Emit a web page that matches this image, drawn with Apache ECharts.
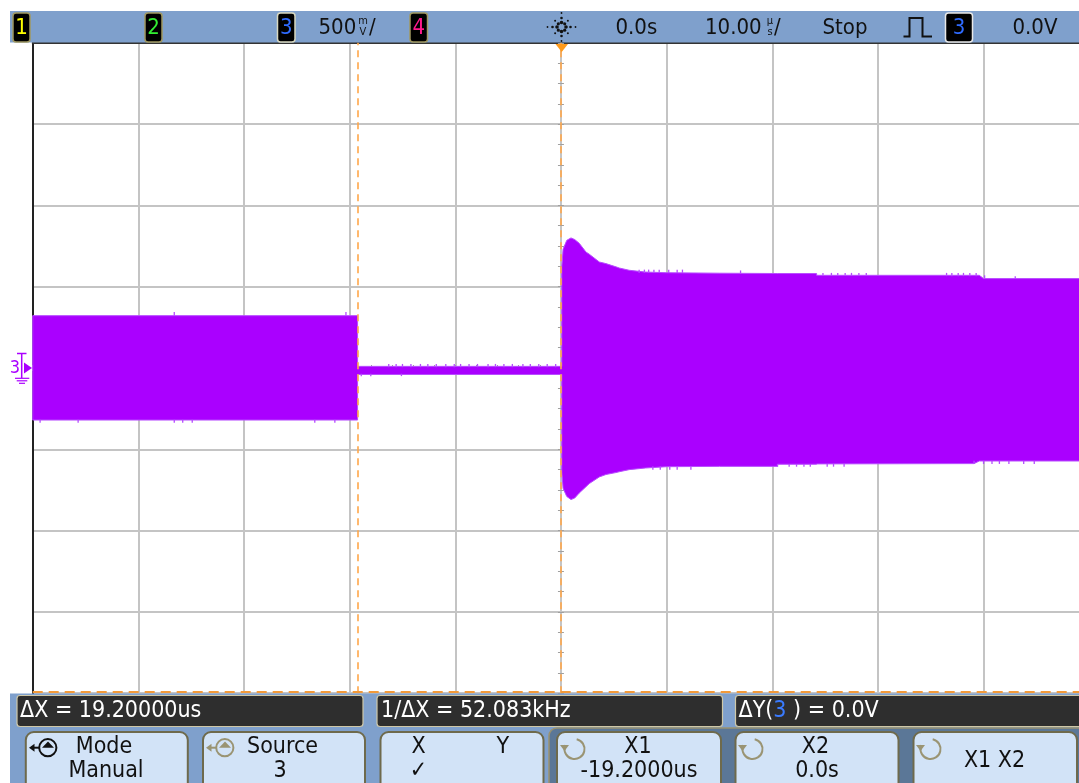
<!DOCTYPE html>
<html><head><meta charset="utf-8">
<script src="https://cdn.jsdelivr.net/npm/echarts@6/dist/echarts.min.js"></script>
<style>html,body{margin:0;padding:0;background:#fff}#c{width:1079px;height:783px}</style>
</head><body><div id="c"></div>
<script>
// ---- Channel 3 envelope (time in µs, volts) ----
const envTime  = [-50, -19.25, -19.25, 0.08, 0.08, 0.2, 0.55, 0.95, 1.3, 1.73, 2.37, 2.68, 3.63, 4.26, 5.21, 5.52, 6.46, 8, 10, 15, 20.5, 20.5, 24.2, 24.2, 39.1, 39.6, 40.0, 50];
const envUpper = [0.322, 0.322, 0.01, 0.01, 0.62, 0.73, 0.785, 0.80, 0.79, 0.767, 0.713, 0.70, 0.652, 0.642, 0.622, 0.615, 0.601, 0.59, 0.586, 0.583, 0.581, 0.581, 0.581, 0.570, 0.570, 0.570, 0.550, 0.550];
const envLower = [-0.320, -0.320, -0.04, -0.04, -0.64, -0.74, -0.79, -0.809, -0.80, -0.769, -0.73, -0.711, -0.670, -0.655, -0.643, -0.638, -0.625, -0.615, -0.607, -0.605, -0.605, -0.592, -0.592, -0.590, -0.588, -0.572, -0.572, -0.572];

// ---- noise spikes on the envelope edges (time, from, to) ----
const spikeTime = [-36.6, -20.35,
  -49.3, -45.7, -36.6, -35.8, -34.9, -23.3, -21.4,
  -16.3, -15.6, -15.0, -14.2, -13.3, -12.6, -11.8, -10.9, -10.1, -9.5, -8.7, -7.9, -6.9, -6.2, -5.4, -4.6, -3.6, -2.9, -2.1, -1.3, -0.5,
  -18.9, -18.0, -15.1,
  7.4, 7.9, 8.3, 8.8, 9.3, 10.2, 11.0, 11.5, 17.0, 24.8, 25.6, 26.2, 26.9, 27.5, 28.2, 28.9, 36.5, 37.0, 37.6, 38.1, 38.7, 39.3, 40.1, 43.0,
  8.7, 9.4, 10.3, 11.0, 12.3, 20.5, 21.6, 22.3, 23.0, 23.6, 25.2, 25.8, 26.8, 39.1, 40.0, 40.8, 41.5, 42.4, 43.8, 44.8];
const spikeFrom = [0.32, 0.32,
  -0.318, -0.318, -0.318, -0.318, -0.318, -0.318, -0.318,
  0.005, 0.005, 0.005, 0.005, 0.005, 0.005, 0.005, 0.005, 0.005, 0.005, 0.005, 0.005, 0.005, 0.005, 0.005, 0.005, 0.005, 0.005, 0.005, 0.005, 0.005,
  -0.035, -0.035, -0.035,
  0.585, 0.585, 0.585, 0.585, 0.585, 0.585, 0.585, 0.585, 0.58, 0.568, 0.568, 0.568, 0.568, 0.568, 0.568, 0.568, 0.565, 0.565, 0.565, 0.565, 0.565, 0.565, 0.55, 0.548,
  -0.605, -0.605, -0.605, -0.605, -0.605, -0.59, -0.59, -0.59, -0.59, -0.59, -0.59, -0.59, -0.59, -0.57, -0.57, -0.57, -0.57, -0.57, -0.57, -0.57];
const spikeTo = [0.345, 0.345,
  -0.337, -0.337, -0.337, -0.337, -0.337, -0.337, -0.337,
  0.025, 0.025, 0.025, 0.025, 0.025, 0.025, 0.025, 0.025, 0.025, 0.025, 0.025, 0.025, 0.025, 0.025, 0.025, 0.025, 0.025, 0.025, 0.025, 0.025, 0.025,
  -0.05, -0.05, -0.05,
  0.605, 0.605, 0.605, 0.605, 0.605, 0.605, 0.605, 0.605, 0.60, 0.585, 0.585, 0.585, 0.585, 0.585, 0.585, 0.585, 0.585, 0.585, 0.585, 0.585, 0.585, 0.585, 0.57, 0.565,
  -0.625, -0.625, -0.625, -0.625, -0.625, -0.607, -0.607, -0.607, -0.607, -0.607, -0.607, -0.607, -0.607, -0.59, -0.59, -0.59, -0.59, -0.59, -0.59, -0.59];

// ---- cursors ----
const cursorX = [-19.2, 0];
const cursorY = [-1.99];

// ---- screen texts ----
const headerTexts = ['500', '0.0s', '10.00', 'Stop', '0.0V'];
const readouts = ['ΔX = 19.20000us', '1/ΔX = 52.083kHz', 'ΔY(', '3', ' ) = 0.0V'];
const softkeyTop = ['Mode', 'Source', 'X', 'X1', 'X2', 'X1 X2'];
const softkeyBottom = ['Manual', '3', '✓', '-19.2000us', '0.0s', ''];

const FONT = "'DejaVu Sans Condensed','DejaVu Sans',sans-serif";
const f = s => s + 'px ' + FONT;
const G = [];
function rect(x, y, w, h, fill, stroke, lw, r) {
  G.push({type: 'rect', shape: {x, y, width: w, height: h, r: r || 0}, style: {fill, stroke: stroke || null, lineWidth: lw || 0}, z: 100, silent: true});
}
function text(t, x, y, size, color, align) {
  G.push({type: 'text', style: {text: t, x, y, fill: color, font: f(size), align: align || 'left', verticalAlign: 'middle', textAlign: align || 'left', textVerticalAlign: 'middle'}, z: 102, silent: true});
}
function line(x1, y1, x2, y2, color, lw) {
  G.push({type: 'line', shape: {x1, y1, x2, y2}, style: {stroke: color, lineWidth: lw || 1}, z: 102, silent: true});
}
function poly(points, fill) {
  G.push({type: 'polygon', shape: {points}, style: {fill}, z: 102, silent: true});
}
function polyline(points, color, lw) {
  G.push({type: 'polyline', shape: {points}, style: {stroke: color, lineWidth: lw, fill: null}, z: 102, silent: true});
}
function arc(cx, cy, r, a0, a1, color, lw) {
  G.push({type: 'arc', shape: {cx, cy, r, startAngle: a0, endAngle: a1, clockwise: true}, style: {stroke: color, lineWidth: lw, fill: null}, z: 102, silent: true});
}
function circle(cx, cy, r, color) {
  G.push({type: 'circle', shape: {cx, cy, r}, style: {fill: color}, z: 102, silent: true});
}

// top bar
const BAR = '#7fa0cc';
rect(10, 11, 1069, 31.5, BAR);
function chBox(x, w, num, color, border) {
  rect(x, 13, w, 29, '#000', border, 1.5, 3);
  text(num, x + w / 2, 28, 22, color, 'center');
}
chBox(13, 17, '1', '#ffff00', '#a09860');
chBox(145, 17, '2', '#33ee33', '#a09860');
chBox(277.5, 17.5, '3', '#2f6bff', '#d8d8c0');
chBox(410, 17.5, '4', '#ff1a8c', '#a09860');
text(headerTexts[0], 318.5, 28, 22, '#111');
text('m', 363, 21, 11, '#111', 'center');
text('V', 363, 32, 11, '#111', 'center');
text('/', 369, 28, 22, '#111');
// logo
const LX = 561.5, LY = 27;
for (let k = 0; k < 8; k++) {
  const a = k * Math.PI / 4;
  const radii = (k % 2 === 0) ? [4.5, 9, 14] : [4.5, 9];
  const sizes = (k % 2 === 0) ? [1.8, 1.3, 0.9] : [1.6, 1.0];
  radii.forEach((r, j) => circle(LX + r * Math.cos(a), LY + r * Math.sin(a), sizes[j], '#111'));
}
text(headerTexts[1], 615.5, 28, 22, '#111');
text(headerTexts[2], 705, 28, 22, '#111');
text('µ', 770, 21, 11, '#111', 'center');
text('s', 770, 32, 11, '#111', 'center');
text('/', 774, 28, 22, '#111');
text(headerTexts[3], 822.5, 28, 22, '#111');
polyline([[903.5, 36.5], [909.5, 36.5], [909.5, 18], [922.5, 18], [922.5, 36.5], [932, 36.5]], '#111', 2);
chBox(945.5, 27, '3', '#2f6bff', '#e8e8e8');
text(headerTexts[4], 1012.5, 28, 22, '#111');
// trigger marker
poly([[555.5, 44], [568, 44], [561.7, 52]], '#ff9a1a');

// ch3 ground marker
const PUR = '#aa00ff';
text('3', 15, 368, 18, PUR, 'center');
line(17, 353.5, 26.5, 353.5, PUR, 1.5);
line(21.7, 353.5, 21.7, 378, PUR, 1.5);
line(15, 378.3, 29.3, 378.3, PUR, 1.2);
line(16.7, 380.8, 27.3, 380.8, PUR, 1.2);
line(19, 383.3, 25, 383.3, PUR, 1.2);
poly([[24, 362.5], [32, 368], [24, 373.5]], PUR);

// bottom panel
rect(10, 693.5, 1069, 90, BAR);
rect(17, 695.5, 346, 31, '#2e2e2e', '#cfc8a8', 1.2, 3);
rect(377, 695.5, 345.5, 31, '#2e2e2e', '#cfc8a8', 1.2, 3);
rect(735.5, 695.5, 360, 31, '#2e2e2e', '#cfc8a8', 1.2, 3);
text(readouts[0], 20, 711, 23, '#fff');
text(readouts[1], 381, 711, 23, '#fff');
G.push({type: 'text', style: {text: '{a|' + readouts[2] + '}{b|' + readouts[3] + '}{a|' + readouts[4] + '}', x: 738.5, y: 711, align: 'left', verticalAlign: 'middle', textAlign: 'left', textVerticalAlign: 'middle', font: f(23), fill: '#fff',
  rich: {a: {fill: '#fff', font: f(23)}, b: {fill: '#3a7bff', font: f(23)}}}, z: 102, silent: true});
// group behind X1/X2 keys
rect(549, 728, 540, 70, '#5b7797', '#9a9270', 1.5, 8);
const keyX = [25.8, 203, 380.5, 557, 735.5, 913.5];
const keyW = [162, 162, 163, 164, 163, 163.5];
keyX.forEach((x, i) => rect(x, 732, keyW[i], 62, '#d2e3f7', '#6e6a4c', 2, 8));
// icons
const GRAY = '#9a9473';
function modeIcon(dx, color) {
  arc(47.8 + dx, 747.7, 8.6, 0, Math.PI * 2, color, 2);
  line(31 + dx, 747.7, 39.5 + dx, 747.7, color, 2);
  poly([[29 + dx, 747.7], [34.5 + dx, 743.7], [34.5 + dx, 751.7]], color);
  poly([[42 + dx, 747.7], [54 + dx, 747.7], [48 + dx, 741.5]], color);
}
modeIcon(0, '#111');
modeIcon(177, GRAY);
[574.5, 752.5, 930.5].forEach(cx => {
  const cy = 749, r = 10;
  arc(cx, cy, r, -1.35, -2.75 + 2 * Math.PI, GRAY, 2);
  poly([[cx - r - 4.5, cy - 4], [cx - r + 4.5, cy - 4], [cx - r, cy + 2]], GRAY);
});
// softkey texts
text(softkeyTop[0], 104, 747, 23, '#111', 'center');
text(softkeyBottom[0], 106, 771, 23, '#111', 'center');
text(softkeyTop[1], 282.5, 747, 23, '#111', 'center');
text(softkeyBottom[1], 280, 771, 23, '#111', 'center');
text(softkeyTop[2], 418.5, 747, 23, '#111', 'center');
text('Y', 502.8, 747, 23, '#111', 'center');
text(softkeyBottom[2], 418.5, 771, 23, '#111', 'center');
text(softkeyTop[3], 638, 747, 23, '#111', 'center');
text(softkeyBottom[3], 639, 771, 23, '#111', 'center');
text(softkeyTop[4], 815.5, 747, 23, '#111', 'center');
text(softkeyBottom[4], 817, 771, 23, '#111', 'center');
text(softkeyTop[5], 994.5, 761, 23, '#111', 'center');

const GRID = '#c4c4c4', TICK = '#a0a0a0';
function centerX(inside, split) {
  return {type: 'value', min: -50, max: 50, interval: 10, position: 'bottom',
    axisLine: {show: !inside, onZero: true, lineStyle: {color: GRID, width: 2}},
    axisTick: {show: true, inside, length: 3, lineStyle: {color: TICK}},
    minorTick: {show: true, splitNumber: 5, length: 3, lineStyle: {color: TICK}},
    axisLabel: {show: false}, splitLine: {show: split, lineStyle: {color: GRID, width: 2}}};
}
function centerY(inside, split) {
  return {type: 'value', min: -2, max: 2, interval: 0.5, position: 'left',
    axisLine: {show: !inside, onZero: true, lineStyle: {color: GRID, width: 2}},
    axisTick: {show: true, inside, length: 3, lineStyle: {color: TICK}},
    minorTick: {show: true, splitNumber: 4, length: 3, lineStyle: {color: TICK}},
    axisLabel: {show: false}, splitLine: {show: split, lineStyle: {color: GRID, width: 2}}};
}

const chart = echarts.init(document.getElementById('c'), null, {renderer: 'canvas'});
chart.setOption({
  animation: false,
  backgroundColor: '#ffffff',
  grid: {left: 32.7, top: 42.8, width: 1056.5, height: 650.4, containLabel: false, outerBoundsMode: 'none'},
  xAxis: [centerX(false, true), centerX(true, false),
    {type: 'value', min: -50, max: 50, position: 'top', axisLine: {onZero: false, lineStyle: {color: '#333', width: 2}}, axisTick: {show: false}, axisLabel: {show: false}, splitLine: {show: false}}],
  yAxis: [centerY(false, true), centerY(true, false),
    {type: 'value', min: -2, max: 2, position: 'left', axisLine: {onZero: false, lineStyle: {color: '#222', width: 2}}, axisTick: {show: false}, axisLabel: {show: false}, splitLine: {show: false}}],
  series: [
    {
      type: 'custom', name: 'ch3', xAxisIndex: 0, yAxisIndex: 0, z: 3, silent: true, clip: false,
      data: envTime.map((t, i) => [t, envUpper[i], envLower[i]]),
      encode: {x: 0, y: [1, 2]},
      renderItem(params, api) {
        if (params.dataIndex !== 0) return null;
        const pts = [];
        for (let i = 0; i < envTime.length; i++) pts.push(api.coord([envTime[i], envUpper[i]]));
        for (let i = envTime.length - 1; i >= 0; i--) pts.push(api.coord([envTime[i], envLower[i]]));
        return {type: 'polygon', shape: {points: pts}, style: {fill: PUR, stroke: '#b84dff', lineWidth: 1}};
      }
    },
    {
      type: 'custom', name: 'spikes', xAxisIndex: 0, yAxisIndex: 0, z: 3, silent: true,
      data: spikeTime.map((t, i) => [t, spikeFrom[i], spikeTo[i]]),
      encode: {x: 0, y: [1, 2]},
      renderItem(params, api) {
        const a = api.coord([api.value(0), api.value(1)]);
        const b = api.coord([api.value(0), api.value(2)]);
        return {type: 'line', shape: {x1: a[0], y1: a[1], x2: b[0], y2: b[1]}, style: {stroke: '#b54cff', lineWidth: 1.3}};
      }
    },
    {
      type: 'line', name: 'cursors', xAxisIndex: 0, yAxisIndex: 0, z: 6, data: [], silent: true,
      markLine: {
        silent: true, symbol: 'none', label: {show: false},
        lineStyle: {color: '#ffa74a', type: [7, 5], width: 1.6},
        data: cursorX.map(v => ({xAxis: v})).concat(cursorY.map(v => ({yAxis: v, lineStyle: {color: '#f29a3a', type: [10, 6], width: 2}})))
      }
    }
  ],
  graphic: {elements: G}
});
</script>
</body></html>
